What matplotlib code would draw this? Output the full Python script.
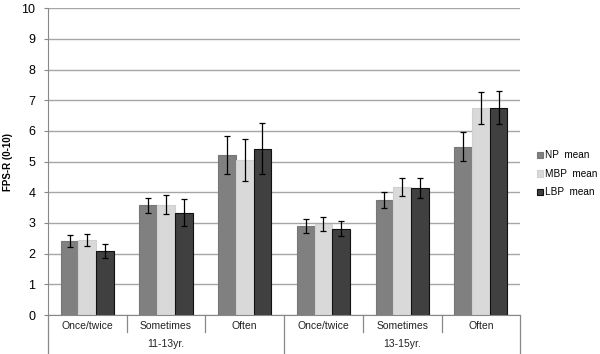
import matplotlib

matplotlib.use("Agg")
import matplotlib.pyplot as plt
import numpy as np

plt.rcParams["font.family"] = ["Liberation Sans", "DejaVu Sans"]

groups = ["11-13yr.", "13-15yr."]
categories = ["Once/twice", "Sometimes", "Often"]
series = ["NP  mean", "MBP  mean", "LBP  mean"]

# means per category (11-13 x3, then 13-15 x3)
np_mean = [2.42, 3.57, 5.22, 2.90, 3.75, 5.49]
mbp_mean = [2.44, 3.60, 5.05, 2.97, 4.17, 6.75]
lbp_mean = [2.08, 3.33, 5.42, 2.82, 4.15, 6.76]

# error bar half widths
np_err = [0.20, 0.24, 0.62, 0.22, 0.25, 0.48]
mbp_err = [0.20, 0.32, 0.68, 0.23, 0.28, 0.53]
lbp_err = [0.22, 0.44, 0.83, 0.24, 0.33, 0.53]

colors = ["#808080", "#d9d9d9", "#404040"]
edges = ["#777777", "#d0d0d0", "#111111"]

fig = plt.figure(figsize=(6.0, 3.54), dpi=100)
ax = fig.add_axes([0.08, 0.11, 0.787, 0.867])

n_cat = len(groups) * len(categories)
x = np.arange(n_cat)
width = 0.225
means = [np_mean, mbp_mean, lbp_mean]
errs = [np_err, mbp_err, lbp_err]
for i, (m, e) in enumerate(zip(means, errs)):
    ax.bar(x + (i - 1) * width, m, width, color=colors[i], edgecolor=edges[i],
           linewidth=0.8, label=series[i], zorder=2)
    ax.errorbar(x + (i - 1) * width, m, yerr=e, fmt="none", ecolor="black",
                elinewidth=0.9, capsize=2.5, capthick=0.9, zorder=3)

ax.set_xlim(-0.5, n_cat - 0.5)
ax.set_ylim(0, 10)
ax.set_yticks(range(0, 11))
ax.yaxis.grid(True, color="#a6a6a6", linewidth=1.0, zorder=0)
ax.set_axisbelow(True)
for s in ["top", "right"]:
    ax.spines[s].set_visible(False)
ax.spines["left"].set_color("#888888")
ax.spines["bottom"].set_color("#888888")
ax.tick_params(axis="y", length=3, color="#888888", labelsize=9, pad=6)
ax.tick_params(axis="x", length=0, labelbottom=False)
ax.set_ylabel("FPS-R (0-10)", fontsize=7, fontweight="bold")
ax.yaxis.set_label_coords(-0.074, 0.5)

# two-level category axis
trans = ax.get_xaxis_transform()
for i in range(n_cat):
    ax.text(i, -0.035, categories[i % len(categories)], transform=trans,
            ha="center", va="center", fontsize=7.5, color="#222222")
for i in range(n_cat + 1):
    bottom = -0.13 if i % len(categories) == 0 else -0.055
    ax.plot([i - 0.5, i - 0.5], [0, bottom], transform=trans, color="#888888",
            linewidth=0.9, clip_on=False)
for g, name in enumerate(groups):
    ax.text(g * len(categories) + 1, -0.095, name, transform=trans,
            ha="center", va="center", fontsize=7.5, color="#222222")

ax.legend(loc="center left", bbox_to_anchor=(1.035, 0.46), frameon=False,
          fontsize=7.2, handlelength=0.6, handleheight=0.6, handletextpad=0.2,
          labelspacing=0.85, borderaxespad=0, borderpad=0)

fig.savefig("out.png", dpi=100)
